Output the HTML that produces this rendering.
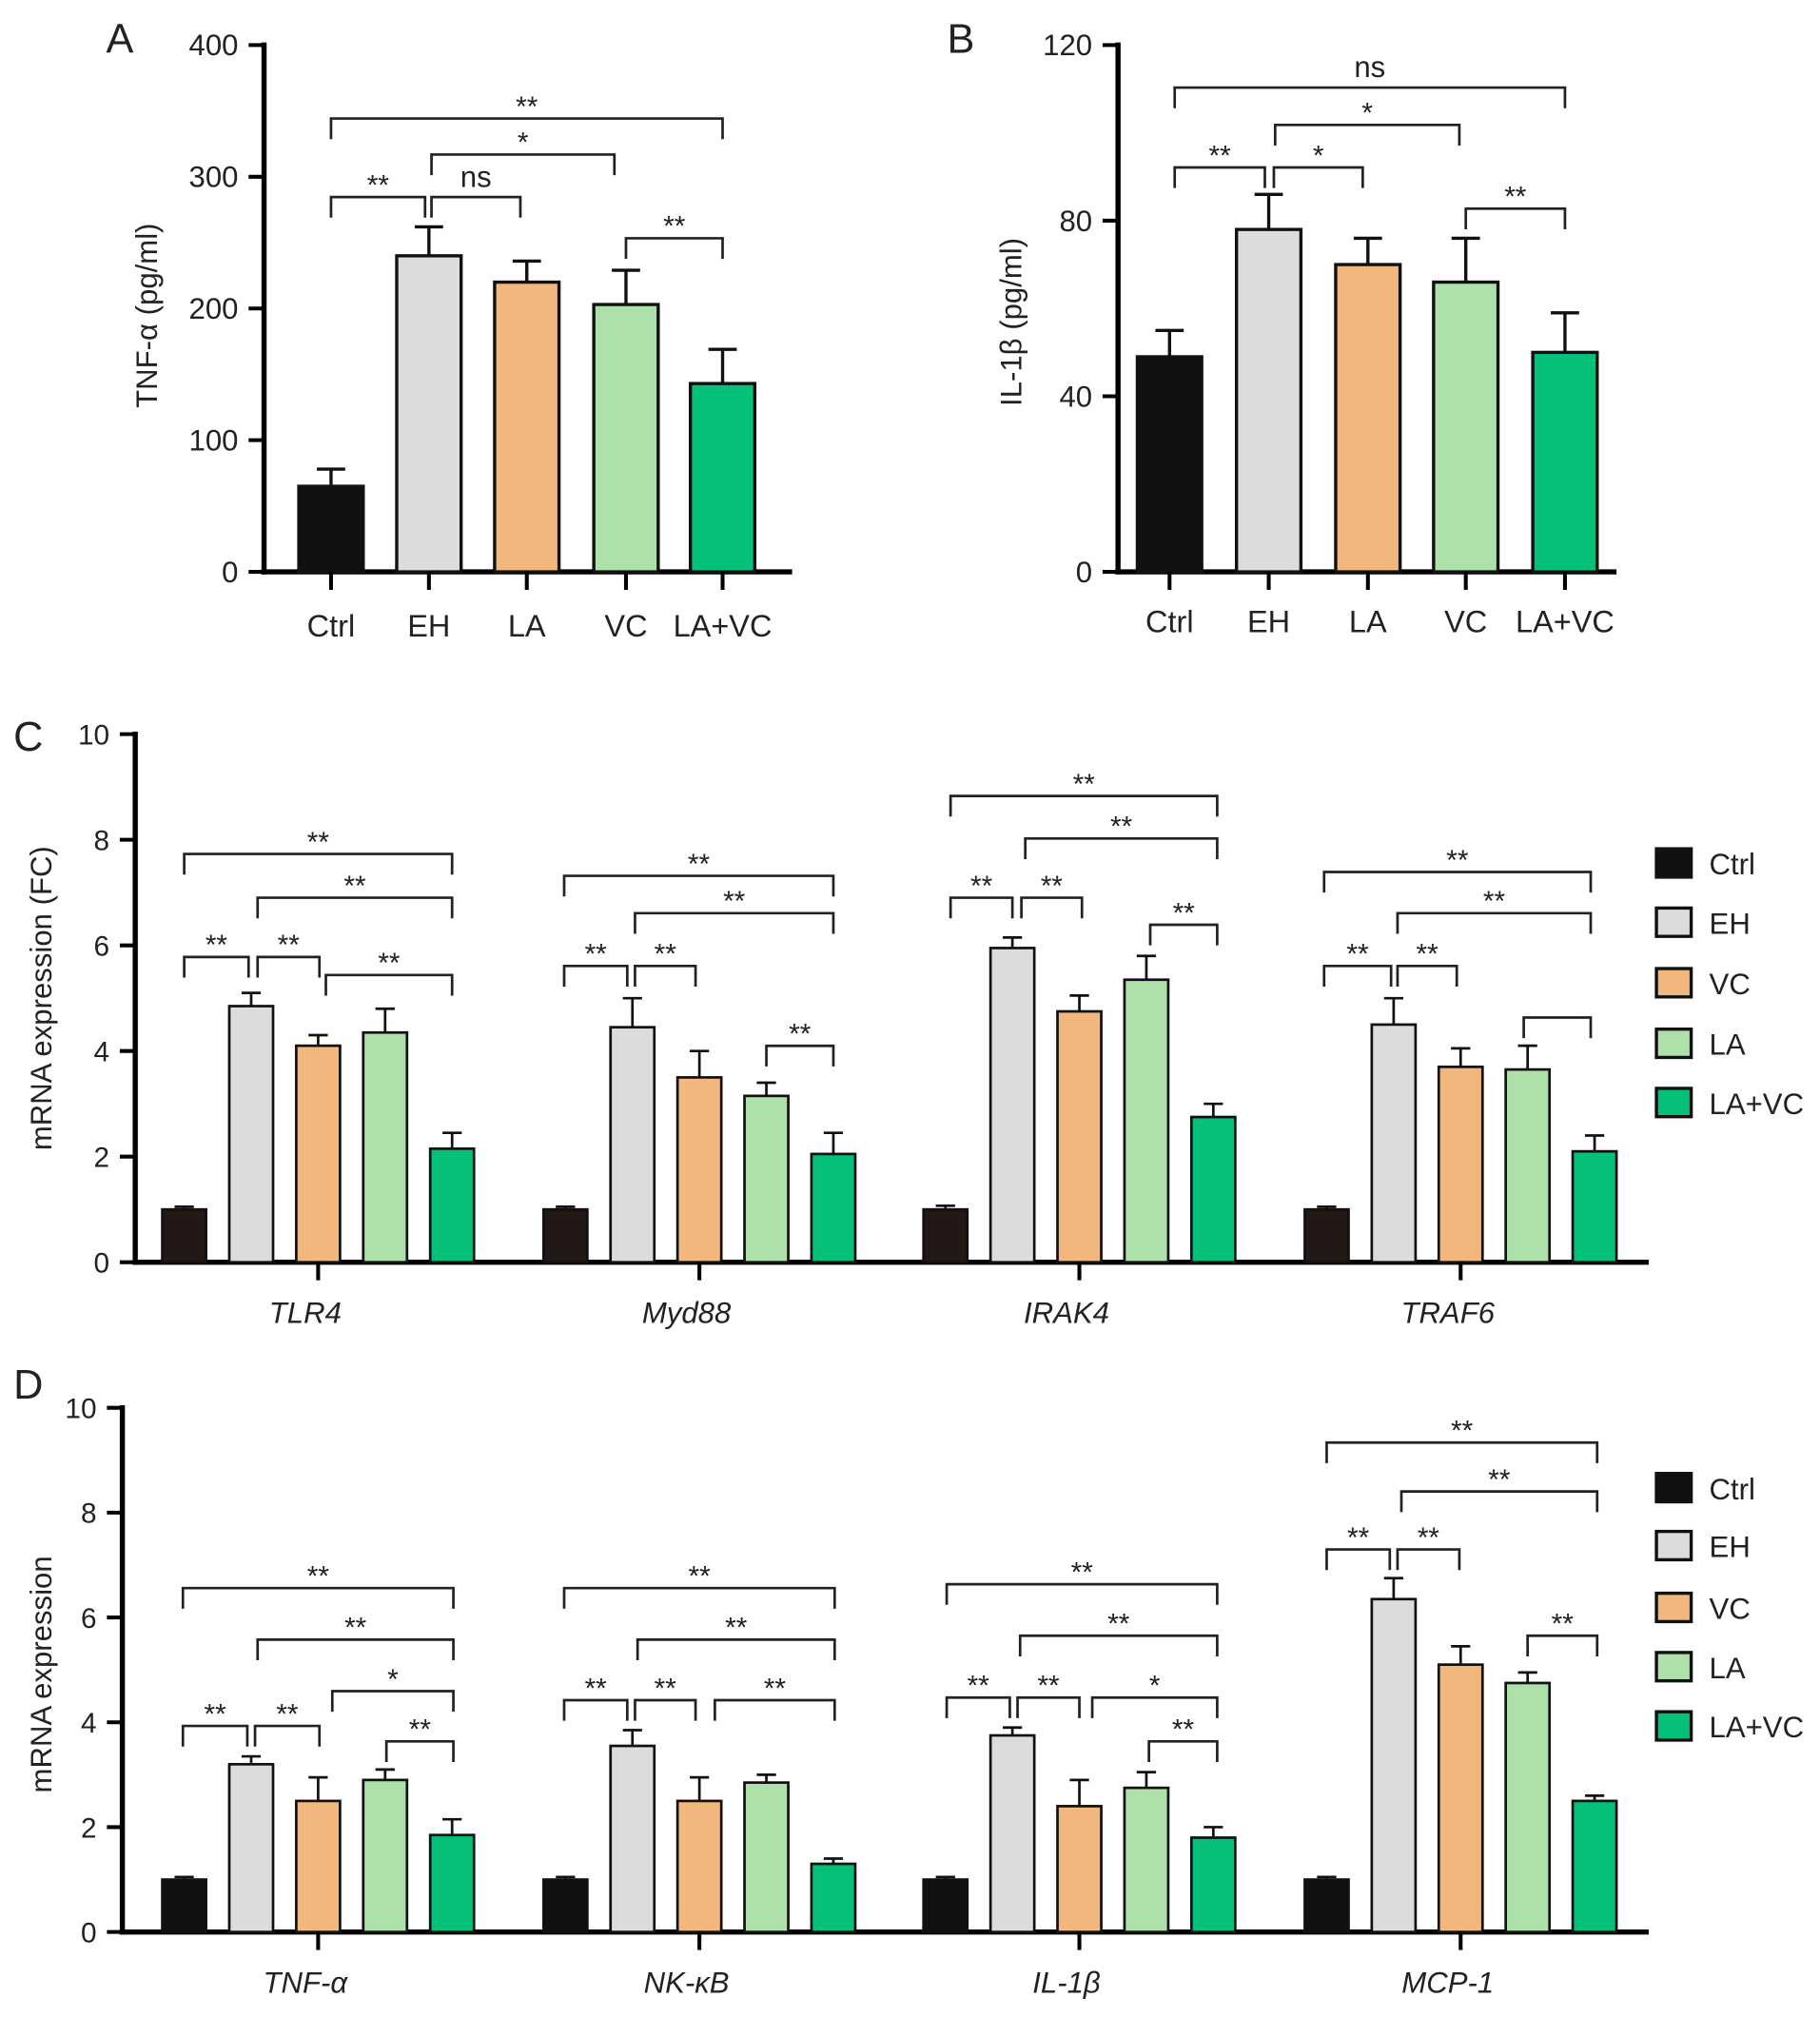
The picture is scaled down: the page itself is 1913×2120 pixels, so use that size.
<!DOCTYPE html>
<html><head><meta charset="utf-8"><style>
body{margin:0;background:#fff}
svg{display:block}
text{font-family:"Liberation Sans",sans-serif;fill:#222}
</style></head><body>
<svg id="fig" width="1913" height="2120" viewBox="0 0 1413 1566" preserveAspectRatio="none" xmlns="http://www.w3.org/2000/svg"></svg>
<script>
const colors=["#111","#dcdcdc","#f2b77d","#aee0aa","#05c078"];
// Panel A
const aCats=["Ctrl","EH","LA","VC","LA+VC"];
const aVals=[65,240,220,203,143];
const aErr=[78,262,236,229,169];
const aTicks=[0,100,200,300,400];
// Panel B
const bCats=["Ctrl","EH","LA","VC","LA+VC"];
const bVals=[49,78,70,66,50];
const bErr=[55,86,76,76,59];
const bTicks=[0,40,80,120];
// Panel C
const cGenes=["TLR4","Myd88","IRAK4","TRAF6"];
const cVals=[[1.0,4.85,4.1,4.35,2.15],[1.0,4.45,3.5,3.15,2.05],[1.0,5.95,4.75,5.35,2.75],[1.0,4.5,3.7,3.65,2.1]];
const cErr=[[1.05,5.1,4.3,4.8,2.45],[1.05,5.0,4.0,3.4,2.45],[1.07,6.15,5.05,5.8,3.0],[1.05,5.0,4.05,4.1,2.4]];
// Panel D
const dGenes=["TNF-α","NK-κB","IL-1β","MCP-1"];
const dVals=[[1.0,3.2,2.5,2.9,1.85],[1.0,3.55,2.5,2.85,1.3],[1.0,3.75,2.4,2.75,1.8],[1.0,6.35,5.1,4.75,2.5]];
const dErr=[[1.05,3.35,2.95,3.1,2.15],[1.05,3.85,2.95,3.0,1.4],[1.05,3.9,2.9,3.05,2.0],[1.05,6.75,5.45,4.95,2.6]];
const cdTicks=[0,2,4,6,8,10];
const legendLabels=["Ctrl","EH","VC","LA","LA+VC"];

const svg=document.getElementById('fig');
function el(tag,attrs,parent){const e=document.createElementNS("http://www.w3.org/2000/svg",tag);for(const k in attrs)e.setAttribute(k,attrs[k]);(parent||svg).appendChild(e);return e;}
function txt(x,y,s,size,anchor,extra){const t=el('text',Object.assign({x:x,y:y,'font-size':size,'text-anchor':anchor||'middle'},extra||{}));t.textContent=s;return t;}

function axis(x0,y0,yTop,xEnd,ticks,max,tickSize){
  const y=v=>y0-(v/max)*(y0-yTop);
  const ax=el('line',{x1:x0,y1:y0+2,x2:x0,y2:yTop-2,stroke:'#000','stroke-width':4});
  
  
  const bx=el('line',{x1:x0-2,y1:y0,x2:xEnd,y2:y0,stroke:'#000','stroke-width':4});
  
  
  ticks.forEach(v=>{
    el('line',{x1:x0-12,y1:y(v),x2:x0,y2:y(v),stroke:'#000','stroke-width':3});
    const t=txt(x0-20,y(v)+8,String(v),tickSize,'end');
    
    
  });
  return y;
}
function bar(cx,w,v,e,y,y0,col,sw){
  const r=el('rect',{x:cx-w/2,y:y(v),width:w,height:y0-y(v),fill:col,stroke:'#111','stroke-width':sw});
  
  
  el('line',{x1:cx,y1:y(v),x2:cx,y2:y(e),stroke:'#111','stroke-width':sw});
  el('line',{x1:cx-w*0.22,y1:y(e),x2:cx+w*0.22,y2:y(e),stroke:'#111','stroke-width':sw});
}
function bracket(x1,x2,yb,label,size){
  const p=el('path',{d:`M${x1} ${yb+16}V${yb}H${x2}V${yb+16}`,fill:'none',stroke:'#222','stroke-width':2});
  
  
  if(label){const t=txt((x1+x2)/2,yb-(label==='ns'?8:2),label,size||22,'middle');
    
    }
}

// ---- Panel A
txt(93,41,"A",32,'middle');
let yA=axis(205,444,35,615,aTicks,400,23);
const aX=[257,333,409,486,561];
aCats.forEach((c,i)=>{bar(aX[i],50,aVals[i],aErr[i],yA,444,colors[i],2.5);
  el('line',{x1:aX[i],y1:444,x2:aX[i],y2:458,stroke:'#000','stroke-width':3});
  const t=txt(aX[i],494,c,24,'middle');});
let ya=txt(0,0,"TNF-α (pg/ml)",23,'middle',{transform:'translate(122,245) rotate(-90)'});

bracket(257,561,92,"**");bracket(335,477,120,"*");bracket(257,330,153,"**");bracket(335,404,153,"ns",23);bracket(486,561,185,"**");

// ---- Panel B
txt(746,41,"B",32,'middle');
let yB=axis(868,444,35,1255,bTicks,120,23);
const bX=[908,985,1062,1138,1215];
bCats.forEach((c,i)=>{bar(bX[i],50,bVals[i],bErr[i],yB,444,colors[i],2.5);
  el('line',{x1:bX[i],y1:444,x2:bX[i],y2:458,stroke:'#000','stroke-width':3});
  const t=txt(bX[i],491,c,24,'middle');});
let yb=txt(0,0,"IL-1β (pg/ml)",23,'middle',{transform:'translate(793,250) rotate(-90)'});

bracket(912,1215,68,"ns",23);bracket(990,1133,97,"*");bracket(912,982,130,"**");bracket(989,1058,130,"*");bracket(1138,1215,162,"**");

// ---- grouped panels
const gOff=[-104,-52,0,52,104];
const gCent=[247,543,838,1134];
function grouped(x0,y0,yTop,genes,vals,errs,ylabel,lx,ly,legY){
  const y=axis(x0,y0,yTop,1280,cdTicks,10,22);
  genes.forEach((g,gi)=>{
    vals[gi].forEach((v,i)=>bar(gCent[gi]+gOff[i],34,v,errs[gi][i],y,y0,i==0?(y0<1000?'#231815':'#111'):colors[i],2));
    el('line',{x1:gCent[gi],y1:y0,x2:gCent[gi],y2:y0+14,stroke:'#000','stroke-width':3});
    const t=txt(gCent[gi]-10,y0+47,g,23,'middle',{'font-style':'italic'});
    
  });
  const t=txt(0,0,ylabel,23,'middle',{transform:`translate(${lx},${ly}) rotate(-90)`});
  
  legendLabels.forEach((l,i)=>{
    const g=el('g',{});
    
    
    el('rect',{x:1286,y:legY[i]-11,width:27,height:22,fill:i==0?'#111':colors[i],stroke:'#111','stroke-width':2.5},g);
    const tt=el('text',{x:1327,y:legY[i]+9,'font-size':23},g);tt.textContent=l;
  });
  return y;
}
txt(22,583,"C",32,'middle');
grouped(105,980,570,cGenes,cVals,cErr,"mRNA expression (FC)",40,775,[670,716,763,810,856]);
[[143,351,663,"**"],[200,351,697,"**"],[143,193,743,"**"],[200,248,743,"**"],[253,351,757,"**"],
 [438,647,680,"**"],[493,647,709,"**"],[438,487,750,"**"],[493,540,750,"**"],[595,647,812,"**"],
 [738,945,618,"**"],[796,945,651,"**"],[738,786,697,"**"],[793,840,697,"**"],[893,945,718,"**"],
 [1028,1235,677,"**"],[1085,1235,709,"**"],[1028,1080,750,"**"],[1085,1131,750,"**"],[1183,1235,790,""]
].forEach(b=>bracket(b[0],b[1],b[2],b[3]));

txt(22,1086,"D",32,'middle');
grouped(95,1500,1093,dGenes,dVals,dErr,"mRNA expression",40,1300,[1155,1200,1248,1294,1340]);
[[142,352,1233,"**"],[200,352,1273,"**"],[258,352,1313,"*"],[142,192,1340,"**"],[198,248,1340,"**"],[300,352,1352,"**"],
 [438,648,1233,"**"],[495,648,1273,"**"],[438,487,1320,"**"],[493,540,1320,"**"],[555,648,1320,"**"],
 [735,945,1230,"**"],[792,945,1270,"**"],[735,784,1318,"**"],[790,838,1318,"**"],[848,945,1318,"*"],[892,945,1352,"**"],
 [1030,1240,1120,"**"],[1088,1240,1158,"**"],[1030,1079,1203,"**"],[1085,1133,1203,"**"],[1186,1240,1270,"**"]
].forEach(b=>bracket(b[0],b[1],b[2],b[3]));
</script>
</body></html>
